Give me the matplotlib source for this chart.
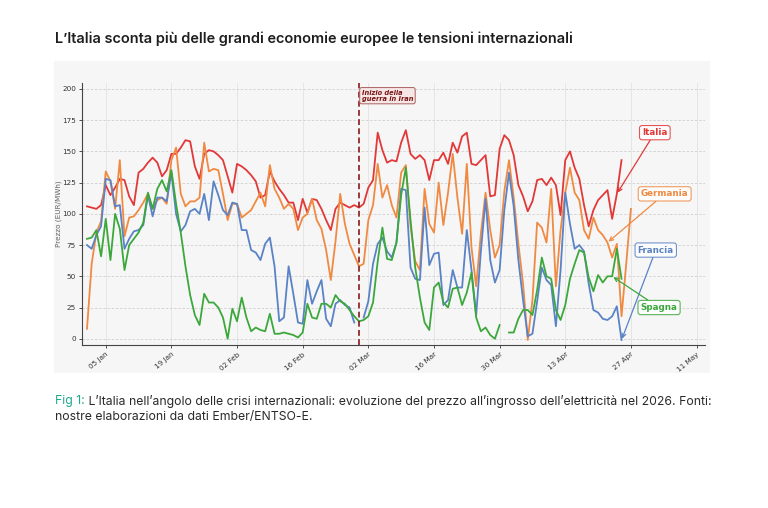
import numpy as np
import pandas as pd
import matplotlib
matplotlib.use('Agg')
import matplotlib.pyplot as plt
import matplotlib.dates as mdates
from matplotlib.patches import Rectangle

nan = np.nan

# ---------------- data ----------------
start_date = '2026-01-01'
war_date = '2026-02-28'

italia = [106, 105, 104, 107, 123, 115, 121, 128, 127, 114,
          107, 133, 136, 141, 145, 141, 130, 135, 148, 148,
          153, 159, 158, 138, 128, 148, 151, 150, 147, 143,
          130, 117, 140, 138, 135, 131, 126, 113, 115, 134,
          126, 120, 115, 109, 109, 95, 112, 101, 112, 111,
          104, 95, 87, 104, 109, 107, 105, 107, 105, 108,
          121, 127, 165, 151, 141, 143, 142, 157, 167, 148,
          144, 147, 143, 127, 143, 143, 149, 140, 157, 149,
          162, 165, 140, 139, 143, 147, 114, 115, 152, 163,
          159, 147, 123, 114, 102, 110, 127, 128, 123, 129,
          123, 99, 143, 150, 137, 128, 107, 90, 103, 111,
          115, 119, 96, 116, 143]

germania = [8, 60, 85, 94, 134, 126, 104, 143, 82, 97,
            98, 103, 109, 116, 104, 111, 113, 108, 143, 153,
            116, 106, 110, 110, 113, 157, 134, 136, 135, 116,
            95, 108, 108, 97, 100, 103, 110, 117, 106, 139,
            120, 113, 104, 108, 104, 87, 97, 100, 112, 95,
            88, 71, 47, 78, 116, 92, 76, 67, 58, 60,
            95, 107, 140, 113, 123, 107, 97, 133, 139, 90,
            62, 55, 120, 92, 85, 125, 91, 117, 148, 113,
            84, 140, 73, 42, 84, 117, 87, 65, 75, 118,
            143, 113, 76, 44, -1, 31, 93, 89, 77, 120,
            42, 87, 117, 137, 117, 111, 87, 80, 97, 87,
            83, 77, 65, 76, 18, 60, 104]

francia = [75, 72, 83, 90, 128, 127, 106, 107, 72, 80,
           86, 87, 91, 115, 98, 113, 113, 110, 133, 100,
           86, 91, 102, 104, 100, 116, 95, 126, 115, 103,
           99, 109, 108, 87, 87, 71, 69, 63, 76, 81,
           58, 14, 17, 58, 36, 13, 12, 47, 28, 38,
           47, 16, 10, 28, 31, 27, 25, 13, nan, 17,
           30, 60, 76, 81, 70, 65, 77, 120, 119, 57,
           48, 47, 105, 59, 68, 69, 27, 31, 55, 41,
           41, 87, 55, 19, 70, 112, 63, 45, 55, 103,
           133, 106, 63, 31, 2, 4, 30, 57, 47, 43,
           10, 55, 117, 92, 72, 75, 70, 44, 23, 21,
           16, 15, 18, 26, -1]

spagna = [80, 81, 87, 66, 96, 63, 100, 88, 55, 75,
          80, 85, 93, 117, 104, 120, 127, 118, 135, 108,
          85, 58, 35, 19, 11, 36, 29, 29, 25, 17,
          0, 24, 14, 33, 17, 6, 9, 7, 6, 20,
          4, 4, 5, 4, 3, 1, 5, 28, 17, 16,
          28, 28, 25, 35, 30, 28, 23, 18, 14, 15,
          18, 29, 62, 89, 64, 63, 77, 115, 137, 95,
          57, 33, 13, 7, 41, 45, 29, 25, 40, 41,
          27, 37, 53, 17, 6, 9, 3, 0, 11, nan,
          5, 5, 16, 23, 23, 19, 39, 65, 50, 48,
          23, 15, 27, 48, 60, 71, 69, 49, 38, 51,
          45, 50, 50, 72, 48]

series_names = ['Italia', 'Germania', 'Francia', 'Spagna']
series_values = [italia, germania, francia, spagna]
y_ticks = [0, 25, 50, 75, 100, 125, 150, 175, 200]
tick_start, tick_end = '2026-01-05', '2026-05-11'

title = 'L’Italia sconta più delle grandi economie europee le tensioni internazionali'
caption_head = 'Fig 1:'
caption_l1 = ' L’Italia nell’angolo delle crisi internazionali: evoluzione del prezzo all’ingrosso dell’elettricità nel 2026. Fonti:'
caption_l2 = 'nostre elaborazioni da dati Ember/ENTSO-E.'

# ---------------- style ----------------
colors = {'Italia': '#e23838', 'Germania': '#f08a42',
          'Francia': '#5a82c6', 'Spagna': '#3ca83c'}
# label box position (days from start, value) and index of arrow target
label_layout = {'Italia': (121.1, 165, 113),
                'Germania': (123.2, 116, 111),
                'Francia': (121.3, 71, 114),
                'Spagna': (122.0, 25, 112)}

W, H = 768, 508
fig = plt.figure(figsize=(W / 100, H / 100), dpi=100)
fig.patch.set_facecolor('white')

panel_bg = '#f6f6f6'
fig.patches.append(Rectangle((54 / W, 1 - 373 / H), (710 - 54) / W, (373 - 61) / H,
                             transform=fig.transFigure, facecolor=panel_bg,
                             edgecolor='none', zorder=-10))

ax = fig.add_axes([82.3 / W, 1 - 345 / H, (705 - 82.3) / W, (345 - 82.7) / H])
ax.set_zorder(2)
ax.set_facecolor(panel_bg)

t0 = pd.Timestamp(start_date)
for name, vals in zip(series_names, series_values):
    dates = pd.date_range(start_date, periods=len(vals), freq='D')
    ax.plot(dates, vals, color=colors[name], lw=1.3, zorder=3)

war = pd.Timestamp(war_date)
ax.axvline(war, color='#8b1a1a', lw=1.2, ls=(0, (3.5, 2)), zorder=4)
ax.text(war + pd.Timedelta(hours=14), 199.5, 'Inizio della\nguerra in Iran',
        fontsize=4.8, fontweight='bold', style='italic', color='#7a1515',
        ha='left', va='top', linespacing=1.05, zorder=5,
        bbox=dict(boxstyle='round,pad=0.3', fc='#f7e6e6', ec='#a86060', lw=0.7))

for name, vals in zip(series_names, series_values):
    dx, yv, idx = label_layout[name]
    target = pd.date_range(start_date, periods=len(vals), freq='D')[idx]
    ax.annotate(name, xy=(target, vals[idx]),
                xytext=(t0 + pd.Timedelta(days=dx), yv),
                ha='center', va='center', fontsize=6.3, fontweight='bold',
                color=colors[name], zorder=6,
                bbox=dict(boxstyle='round,pad=0.3', fc='white', ec=colors[name],
                          lw=0.8, alpha=0.85),
                arrowprops=dict(arrowstyle='->', color=colors[name], lw=0.9,
                                mutation_scale=7, shrinkA=0, shrinkB=1))

ax.set_xlim(mdates.date2num(t0) - 1.0, mdates.date2num(t0) + 131.8)
ax.set_ylim(-5, 205)
ax.set_yticks(y_ticks)
ax.set_xticks(pd.date_range(tick_start, tick_end, freq='14D'))
ax.xaxis.set_major_formatter(mdates.DateFormatter('%d %b'))
ax.tick_params(axis='both', labelsize=5.2, colors='#333333', length=2.5, width=0.6,
               pad=2)
for lab in ax.get_xticklabels():
    lab.set_rotation(40)
    lab.set_ha('right')
    lab.set_rotation_mode('anchor')
ax.grid(axis='y', color='#cfcfcf', ls=(0, (3, 2)), lw=0.6)
ax.grid(axis='x', color='#e2e2e2', ls='-', lw=0.6)
ax.set_axisbelow(True)
for s in ['top', 'right']:
    ax.spines[s].set_visible(False)
for s in ['left', 'bottom']:
    ax.spines[s].set_color('#444444')
    ax.spines[s].set_linewidth(0.8)
ax.set_ylabel('Prezzo (EUR/MWh)', fontsize=5.2, color='#666666', labelpad=0)

fig.text(55 / W, 1 - 39 / H, title, fontsize=10.45, family='Inter',
         fontweight='semibold', color='#1e1e1e', ha='left', va='center')

cap_fs = 8.8
head = fig.text(55 / W, 1 - 401 / H, caption_head, fontsize=cap_fs, family='Inter',
                color='#1fa98c', ha='left', va='center')
fig.canvas.draw()
ax.annotate(caption_l1, xy=(1, 0.5), xycoords=head, fontsize=cap_fs, family='Inter',
            color='#2a2a2a', ha='left', va='center', annotation_clip=False)
fig.text(55 / W, 1 - 417 / H, caption_l2, fontsize=cap_fs, family='Inter',
         color='#2a2a2a', ha='left', va='center')

fig.savefig('out.png', dpi=100, facecolor='white')
